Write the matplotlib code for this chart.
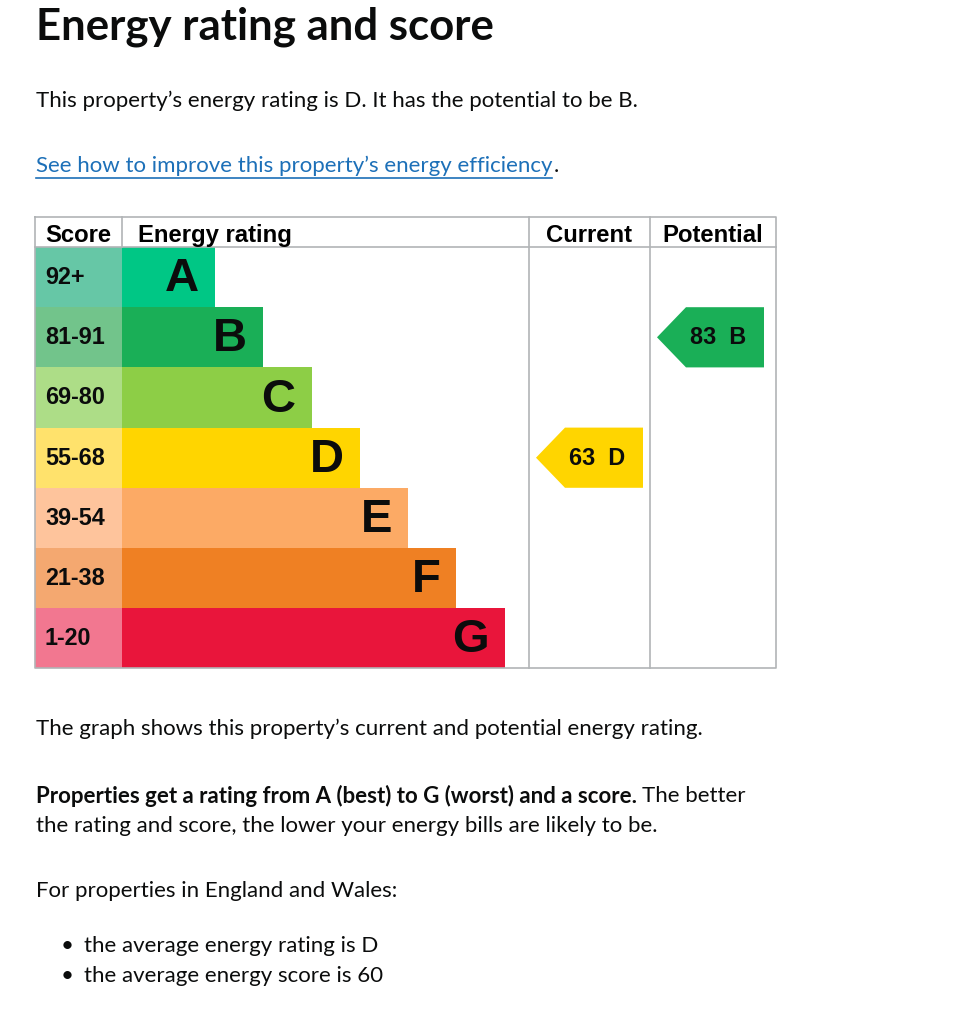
import matplotlib.pyplot as plt
from matplotlib.patches import Rectangle, Polygon

# Data
ratings = ['A', 'B', 'C', 'D', 'E', 'F', 'G']
score_bands = ['92+', '81-91', '69-80', '55-68', '39-54', '21-38', '1-20']
band_low = [92, 81, 69, 55, 39, 21, 1]
bar_colors = ['#00c785', '#1aaf57', '#8dce46', '#ffd500', '#fcaa65', '#ef8023', '#e9153b']
score_colors = ['#66c7a6', '#72c48b', '#addd87', '#ffe26c', '#fec49c', '#f4a870', '#f27790']
current_score = 63
potential_score = 83
headers = ['Score', 'Energy rating', 'Current', 'Potential']

body_font = ['Lato', 'DejaVu Sans']
chart_font = ['Liberation Sans', 'DejaVu Sans']
link_color = '#1d70b8'
grid_color = '#b1b4b6'
body_size = 16
chart_size = 16.8


def band_of(score):
    for i, low in enumerate(band_low):
        if score >= low:
            return i
    return len(band_low) - 1


fig = plt.figure(figsize=(9.56, 10.24), dpi=100)
ax = fig.add_axes([0, 0, 1, 1])
ax.set_xlim(0, 956)
ax.set_ylim(1024, 0)
ax.axis('off')

# Text above the chart
ax.text(36, 27, 'Energy rating and score', fontsize=31.5, fontweight='bold',
        family=body_font, va='center', color='#0b0c0c')
ax.text(36, 101, 'This property\u2019s energy rating is D. It has the potential to be B.',
        fontsize=body_size, family=body_font, va='center', color='#0b0c0c')
link = ax.text(36, 166, 'See how to improve this property\u2019s energy efficiency',
               fontsize=body_size, family=body_font, va='center', color=link_color)

# Chart layout (pixels)
left, score_w, top, head_h, row_h = 35, 87, 217, 30, 60.2
bar_start = left + score_w
bar_step = 48.3
bar_first = 215
cur_x0, pot_x0, right = 529, 650, 776
bottom = top + head_h + row_h * len(ratings)

for i, r in enumerate(ratings):
    y0 = top + head_h + i * row_h
    ax.add_patch(Rectangle((left, y0), score_w, row_h, color=score_colors[i], lw=0))
    end = bar_first + i * bar_step
    ax.add_patch(Rectangle((bar_start, y0), end - bar_start, row_h, color=bar_colors[i], lw=0))
    ax.text(left + 10, y0 + row_h / 2 + 7, score_bands[i], fontsize=chart_size, fontweight='bold',
            family=chart_font, va='baseline', color='#0b0c0c')
    ax.text(end - 16, y0 + row_h / 2 + 2, r, fontsize=34, fontweight='bold',
            family=chart_font, va='center', ha='right', color='#0b0c0c')

# grid lines
lw = 1.2
ax.plot([left, right, right, left, left], [top, top, bottom, bottom, top], color=grid_color, lw=lw)
ax.plot([left, right], [top + head_h, top + head_h], color=grid_color, lw=lw)
ax.plot([bar_start, bar_start], [top, top + head_h], color=grid_color, lw=lw)
for xv in (cur_x0, pot_x0):
    ax.plot([xv, xv], [top, bottom], color=grid_color, lw=lw)

hy = top + 25
hs = 17.2
ax.text(left + 10, hy, headers[0], fontsize=hs, fontweight='bold', family=chart_font, va='baseline')
ax.text(bar_start + 16, hy, headers[1], fontsize=hs, fontweight='bold', family=chart_font, va='baseline')
ax.text((cur_x0 + pot_x0) / 2, hy, headers[2], fontsize=hs, fontweight='bold',
        family=chart_font, va='baseline', ha='center')
ax.text((pot_x0 + right) / 2, hy, headers[3], fontsize=hs, fontweight='bold',
        family=chart_font, va='baseline', ha='center')


def arrow(col_x0, score):
    i = band_of(score)
    y0 = top + head_h + i * row_h
    tip = col_x0 + 7
    body = tip + 29
    end = col_x0 + 114
    pts = [(tip, y0 + row_h / 2), (body, y0), (end, y0), (end, y0 + row_h), (body, y0 + row_h)]
    ax.add_patch(Polygon(pts, closed=True, color=bar_colors[i], lw=0))
    ax.text((tip + end) / 2 + 8, y0 + row_h / 2 + 7, f'{score}  {ratings[i]}', fontsize=chart_size,
            fontweight='bold', family=chart_font, va='baseline', ha='center', color='#0b0c0c')


arrow(cur_x0, current_score)
arrow(pot_x0, potential_score)

# Text below the chart
ax.text(36, 729, 'The graph shows this property\u2019s current and potential energy rating.',
        fontsize=body_size, family=body_font, va='center', color='#0b0c0c')
bold = ax.text(36, 796, 'Properties get a rating from A (best) to G (worst) and a score.',
               fontsize=body_size, fontweight='bold', family=body_font, va='center', color='#0b0c0c')
ax.text(36, 826, 'the rating and score, the lower your energy bills are likely to be.',
        fontsize=body_size, family=body_font, va='center', color='#0b0c0c')
ax.text(36, 891, 'For properties in England and Wales:',
        fontsize=body_size, family=body_font, va='center', color='#0b0c0c')
for yv, s in [(946, 'the average energy rating is D'), (976, 'the average energy score is 60')]:
    ax.text(61, yv, '\u2022', fontsize=body_size, family=body_font, va='center', color='#0b0c0c')
    ax.text(84, yv, s, fontsize=body_size, family=body_font, va='center', color='#0b0c0c')

# place inline pieces after measuring
fig.canvas.draw()
inv = ax.transData.inverted()
bb = link.get_window_extent()
(x0, _), (x1, _) = inv.transform([(bb.x0, bb.y0), (bb.x1, bb.y1)])
ax.plot([x0, x1], [178, 178], color=link_color, lw=1.2)
ax.text(x1 + 1, 166, '.', fontsize=body_size, family=body_font, va='center', color='#0b0c0c')
bb = bold.get_window_extent()
bx1 = inv.transform([(bb.x1, bb.y0)])[0][0]
ax.text(bx1 + 5, 796, 'The better', fontsize=body_size, family=body_font, va='center', color='#0b0c0c')

fig.savefig('out.png', dpi=100, facecolor='white')
